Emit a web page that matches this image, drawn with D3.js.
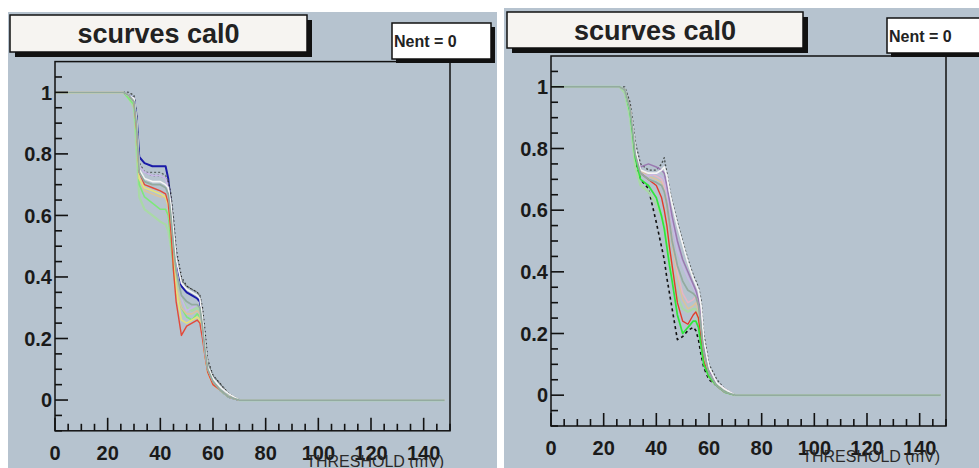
<!DOCTYPE html>
<html>
<head>
<meta charset="utf-8">
<script src="https://cdn.jsdelivr.net/npm/d3@7"></script>
<style>
  html, body { margin: 0; padding: 0; background: #ffffff; }
  svg { display: block; }
</style>
</head>
<body>
<svg id="chart" width="979" height="468"></svg>
<script>
// ---- data -------------------------------------------------------------
// Threshold scan points (mV)
const thresholds = [0, 26, 28, 30, 31, 32, 34, 37, 40, 42, 43, 44, 45, 46, 48, 50, 52, 54, 55, 56, 57, 58, 60, 63, 66, 70, 148];

// Tick labels
const xTickValues = [0, 20, 40, 60, 80, 100, 120, 140];
const xTickLabels = ["0", "20", "40", "60", "80", "100", "120", "140"];
const yTickValues = [0, 0.2, 0.4, 0.6, 0.8, 1];
const yTickLabels = ["0", "0.2", "0.4", "0.6", "0.8", "1"];

const histTitle = "scurves cal0";
const statsLabel = "Nent = 0";
const xAxisTitle = "THRESHOLD (mV)";

// First board: efficiency per channel
const calA_blue  = [1, 1, 0.99, 0.98, 0.92, 0.79, 0.77, 0.76, 0.76, 0.76, 0.72, 0.64, 0.54, 0.45, 0.37, 0.35, 0.34, 0.33, 0.32, 0.26, 0.17, 0.10, 0.06, 0.03, 0.01, 0, 0];
const calA_black = [1, 1, 1.00, 0.99, 0.92, 0.77, 0.74, 0.73, 0.73, 0.72, 0.71, 0.67, 0.59, 0.49, 0.40, 0.37, 0.36, 0.35, 0.34, 0.30, 0.22, 0.13, 0.08, 0.05, 0.02, 0, 0];
const calA_grey  = [1, 1, 1.00, 0.99, 0.93, 0.77, 0.74, 0.74, 0.74, 0.73, 0.71, 0.66, 0.57, 0.47, 0.39, 0.37, 0.36, 0.35, 0.34, 0.28, 0.19, 0.12, 0.08, 0.05, 0.02, 0, 0];
const calA_pale  = [1, 1, 0.98, 0.95, 0.80, 0.66, 0.62, 0.60, 0.58, 0.57, 0.55, 0.50, 0.45, 0.40, 0.33, 0.30, 0.29, 0.30, 0.29, 0.22, 0.15, 0.10, 0.06, 0.03, 0.01, 0, 0];
const calA_green = [1, 1, 0.98, 0.96, 0.86, 0.70, 0.66, 0.64, 0.62, 0.62, 0.60, 0.52, 0.42, 0.35, 0.30, 0.27, 0.26, 0.28, 0.27, 0.22, 0.15, 0.10, 0.06, 0.03, 0.01, 0, 0];
const calA_beige = [1, 1, 0.99, 0.97, 0.89, 0.72, 0.68, 0.67, 0.66, 0.66, 0.64, 0.57, 0.46, 0.37, 0.30, 0.28, 0.28, 0.29, 0.28, 0.22, 0.15, 0.10, 0.06, 0.03, 0.01, 0, 0];
const calA_yellow= [1, 1, 0.99, 0.97, 0.88, 0.72, 0.69, 0.68, 0.67, 0.66, 0.63, 0.55, 0.45, 0.36, 0.26, 0.25, 0.26, 0.27, 0.26, 0.21, 0.14, 0.09, 0.05, 0.03, 0.01, 0, 0];
const calA_red   = [1, 1, 0.99, 0.97, 0.88, 0.74, 0.70, 0.69, 0.68, 0.67, 0.64, 0.55, 0.42, 0.32, 0.21, 0.24, 0.25, 0.26, 0.25, 0.20, 0.14, 0.09, 0.05, 0.03, 0.01, 0, 0];
const calA_lilac = [1, 1, 0.99, 0.98, 0.90, 0.76, 0.74, 0.73, 0.73, 0.72, 0.69, 0.62, 0.52, 0.43, 0.33, 0.29, 0.30, 0.31, 0.30, 0.23, 0.15, 0.10, 0.06, 0.03, 0.01, 0, 0];
const calA_white = [1, 1, 0.99, 0.98, 0.91, 0.75, 0.72, 0.71, 0.71, 0.70, 0.69, 0.64, 0.55, 0.46, 0.38, 0.36, 0.35, 0.34, 0.33, 0.27, 0.18, 0.11, 0.07, 0.04, 0.02, 0, 0];
const calA_sage  = [1, 1, 0.99, 0.97, 0.89, 0.74, 0.71, 0.70, 0.70, 0.69, 0.67, 0.60, 0.50, 0.42, 0.34, 0.32, 0.31, 0.31, 0.30, 0.24, 0.16, 0.10, 0.06, 0.03, 0.01, 0, 0];

// Second board: efficiency per channel
const calB_black = [1, 1, 0.99, 0.92, 0.84, 0.76, 0.70, 0.67, 0.56, 0.48, 0.44, 0.38, 0.33, 0.28, 0.18, 0.19, 0.21, 0.22, 0.21, 0.18, 0.13, 0.09, 0.05, 0.03, 0.01, 0, 0];
const calB_grey  = [1, 1, 1.00, 0.95, 0.89, 0.82, 0.75, 0.73, 0.73, 0.75, 0.77, 0.72, 0.67, 0.63, 0.56, 0.50, 0.44, 0.39, 0.37, 0.35, 0.31, 0.20, 0.10, 0.05, 0.02, 0, 0];
const calB_pale  = [1, 1, 0.98, 0.90, 0.82, 0.74, 0.68, 0.66, 0.62, 0.58, 0.55, 0.50, 0.45, 0.40, 0.32, 0.28, 0.27, 0.28, 0.28, 0.24, 0.17, 0.11, 0.06, 0.03, 0.01, 0, 0];
const calB_beige = [1, 1, 0.99, 0.93, 0.86, 0.79, 0.73, 0.71, 0.70, 0.69, 0.66, 0.61, 0.55, 0.49, 0.38, 0.31, 0.28, 0.29, 0.30, 0.27, 0.20, 0.12, 0.06, 0.03, 0.01, 0, 0];
const calB_pink  = [1, 1, 0.99, 0.93, 0.86, 0.79, 0.73, 0.72, 0.71, 0.70, 0.68, 0.63, 0.57, 0.51, 0.40, 0.33, 0.30, 0.31, 0.32, 0.28, 0.21, 0.13, 0.07, 0.03, 0.01, 0, 0];
const calB_lilac = [1, 1, 0.99, 0.92, 0.85, 0.78, 0.72, 0.71, 0.72, 0.71, 0.70, 0.66, 0.61, 0.56, 0.47, 0.42, 0.38, 0.35, 0.33, 0.30, 0.25, 0.15, 0.07, 0.03, 0.01, 0, 0];
const calB_purple= [1, 1, 0.99, 0.93, 0.86, 0.79, 0.74, 0.75, 0.74, 0.73, 0.72, 0.68, 0.63, 0.58, 0.50, 0.44, 0.40, 0.36, 0.34, 0.31, 0.26, 0.16, 0.08, 0.04, 0.02, 0, 0];
const calB_red   = [1, 1, 0.99, 0.93, 0.86, 0.78, 0.72, 0.70, 0.68, 0.64, 0.60, 0.55, 0.48, 0.42, 0.30, 0.24, 0.23, 0.26, 0.27, 0.25, 0.18, 0.11, 0.06, 0.03, 0.01, 0, 0];
const calB_green = [1, 1, 0.99, 0.92, 0.85, 0.77, 0.70, 0.68, 0.64, 0.58, 0.54, 0.48, 0.42, 0.37, 0.26, 0.20, 0.22, 0.24, 0.24, 0.22, 0.16, 0.10, 0.06, 0.03, 0.01, 0, 0];
const calB_white = [1, 1, 0.99, 0.93, 0.87, 0.80, 0.73, 0.72, 0.72, 0.73, 0.74, 0.71, 0.66, 0.62, 0.55, 0.49, 0.43, 0.38, 0.36, 0.34, 0.29, 0.18, 0.09, 0.04, 0.02, 0, 0];
const calB_sage  = [1, 1, 0.99, 0.93, 0.86, 0.78, 0.72, 0.70, 0.69, 0.68, 0.66, 0.62, 0.56, 0.50, 0.42, 0.37, 0.34, 0.33, 0.32, 0.29, 0.22, 0.14, 0.07, 0.03, 0.01, 0, 0];

// ---- styles (drawn in this order) -------------------------------------
const padFill = "#b6c3cf";
const boardA = [
  { v: calA_blue,   c: "#1a1aa8", w: 2.0, d: null },
  { v: calA_black,  c: "#2a2a2a", w: 1.4, d: "1.5,2.5" },
  { v: calA_grey,   c: "#5f6868", w: 1.4, d: "2,2" },
  { v: calA_pale,   c: "#a9d9a6", w: 2.2, d: null },
  { v: calA_green,  c: "#7ee87a", w: 1.6, d: null },
  { v: calA_beige,  c: "#dcc39a", w: 1.6, d: null },
  { v: calA_yellow, c: "#e6e27a", w: 1.6, d: null },
  { v: calA_red,    c: "#e24a3a", w: 1.4, d: null },
  { v: calA_lilac,  c: "#c8b8e6", w: 1.6, d: null },
  { v: calA_white,  c: "#f4f4f4", w: 1.6, d: null },
  { v: calA_sage,   c: "#93ab9f", w: 1.8, d: null }
];
const boardB = [
  { v: calB_black,  c: "#101010", w: 1.6, d: "3,3" },
  { v: calB_grey,   c: "#4a5050", w: 1.4, d: "2,2" },
  { v: calB_pale,   c: "#a9d9a6", w: 2.2, d: null },
  { v: calB_beige,  c: "#dcc39a", w: 1.5, d: null },
  { v: calB_pink,   c: "#e6b6c6", w: 1.5, d: null },
  { v: calB_lilac,  c: "#c8b8e6", w: 1.5, d: null },
  { v: calB_purple, c: "#9a78b0", w: 1.5, d: null },
  { v: calB_red,    c: "#e23a2a", w: 1.4, d: null },
  { v: calB_green,  c: "#2ee83a", w: 1.7, d: null },
  { v: calB_white,  c: "#f4f4f4", w: 1.7, d: null },
  { v: calB_sage,   c: "#93ab9f", w: 1.8, d: null }
];

const svg = d3.select("#chart");
const labelFont = "'Liberation Sans', Arial, Helvetica, sans-serif";

function drawPad(p) {
  const g = svg.append("g");

  // pad background
  g.append("rect")
    .attr("x", p.padX).attr("y", p.padY)
    .attr("width", p.padW).attr("height", p.padH)
    .attr("fill", padFill);

  const x = d3.scaleLinear().domain([0, 150]).range([p.left, p.right]);
  const y = d3.scaleLinear().domain([-0.1, 1.1]).range([p.bottom, p.top]);

  // curves
  const clipId = "clip" + p.id;
  g.append("clipPath").attr("id", clipId)
    .append("rect")
    .attr("x", p.left).attr("y", p.top)
    .attr("width", p.right - p.left).attr("height", p.bottom - p.top);

  const line = d3.line()
    .x((d, i) => x(thresholds[i]))
    .y(d => y(d));

  const curves = g.append("g").attr("clip-path", `url(#${clipId})`);
  p.series.forEach(s => {
    curves.append("path")
      .attr("d", line(s.v))
      .attr("fill", "none")
      .attr("stroke", s.c)
      .attr("stroke-width", s.w)
      .attr("stroke-linejoin", "round")
      .attr("stroke-dasharray", s.d);
  });

  // frame
  g.append("rect")
    .attr("x", p.left).attr("y", p.top)
    .attr("width", p.right - p.left).attr("height", p.bottom - p.top)
    .attr("fill", "none").attr("stroke", "#111").attr("stroke-width", 1.5);

  // x axis ticks (pointing up into the frame)
  const xMinor = d3.range(0, 151, 5);
  g.append("g").selectAll("line").data(xMinor).join("line")
    .attr("x1", d => x(d)).attr("x2", d => x(d))
    .attr("y1", p.bottom)
    .attr("y2", d => p.bottom - (d % 20 === 0 ? 13 : 7))
    .attr("stroke", "#111").attr("stroke-width", 1.6);

  g.append("g").selectAll("text").data(xTickValues).join("text")
    .attr("x", d => x(d)).attr("y", p.bottom + 29)
    .attr("text-anchor", "middle")
    .attr("font-family", labelFont).attr("font-weight", "bold")
    .attr("font-size", 20).attr("fill", "#1a1a1a")
    .text((d, i) => xTickLabels[i]);

  // y axis ticks (pointing right into the frame)
  const yMinor = d3.range(-2, 22).map(k => k * 0.05);
  g.append("g").selectAll("line").data(yMinor).join("line")
    .attr("x1", p.left)
    .attr("x2", (d, i) => p.left + ((i - 2) % 4 === 0 ? 13 : 7))
    .attr("y1", d => y(d)).attr("y2", d => y(d))
    .attr("stroke", "#111").attr("stroke-width", 1.6);

  g.append("g").selectAll("text").data(yTickValues).join("text")
    .attr("x", p.left - 3).attr("y", d => y(d))
    .attr("dy", "0.36em")
    .attr("text-anchor", "end")
    .attr("font-family", labelFont).attr("font-weight", "bold")
    .attr("font-size", 20).attr("fill", "#1a1a1a")
    .text((d, i) => yTickLabels[i]);

  // axis title, right aligned under the axis
  g.append("text")
    .attr("x", p.right - 6).attr("y", p.bottom + 36)
    .attr("text-anchor", "end")
    .attr("font-family", labelFont)
    .attr("font-size", 16).attr("fill", "#2a2a2a")
    .text(xAxisTitle);

  // title box with drop shadow
  g.append("rect")
    .attr("x", p.titleX + 5).attr("y", p.titleY + 5)
    .attr("width", p.titleW).attr("height", p.titleH)
    .attr("fill", "#111");
  g.append("rect")
    .attr("x", p.titleX).attr("y", p.titleY)
    .attr("width", p.titleW).attr("height", p.titleH)
    .attr("fill", "#f6f4f1").attr("stroke", "#111").attr("stroke-width", 1.5);
  g.append("text")
    .attr("x", p.titleX + p.titleW / 2).attr("y", p.titleY + 28)
    .attr("text-anchor", "middle")
    .attr("font-family", labelFont).attr("font-weight", "bold")
    .attr("font-size", 27).attr("fill", "#222")
    .text(histTitle);

  // statistics box
  g.append("rect")
    .attr("x", p.statX + 4).attr("y", p.statY + 4)
    .attr("width", p.statW).attr("height", p.statH)
    .attr("fill", "#111");
  g.append("rect")
    .attr("x", p.statX).attr("y", p.statY)
    .attr("width", p.statW).attr("height", p.statH)
    .attr("fill", "#ffffff").attr("stroke", "#111").attr("stroke-width", 1.5);
  g.append("text")
    .attr("x", p.statX + 2).attr("y", p.statY + 24)
    .attr("font-family", labelFont).attr("font-weight", "bold")
    .attr("font-size", 16).attr("fill", "#222")
    .text(statsLabel);
}

drawPad({
  id: "A", series: boardA,
  padX: 8, padY: 12, padW: 489, padH: 456,
  left: 55, right: 450, top: 61.6, bottom: 430.8,
  titleX: 10, titleY: 15, titleW: 297, titleH: 37,
  statX: 392, statY: 23, statW: 99, statH: 36
});

drawPad({
  id: "B", series: boardB,
  padX: 504, padY: 8, padW: 475, padH: 460,
  left: 551, right: 946, top: 56, bottom: 426,
  titleX: 507, titleY: 12, titleW: 296, titleH: 36,
  statX: 887, statY: 18, statW: 98, statH: 35
});
</script>
</body>
</html>
